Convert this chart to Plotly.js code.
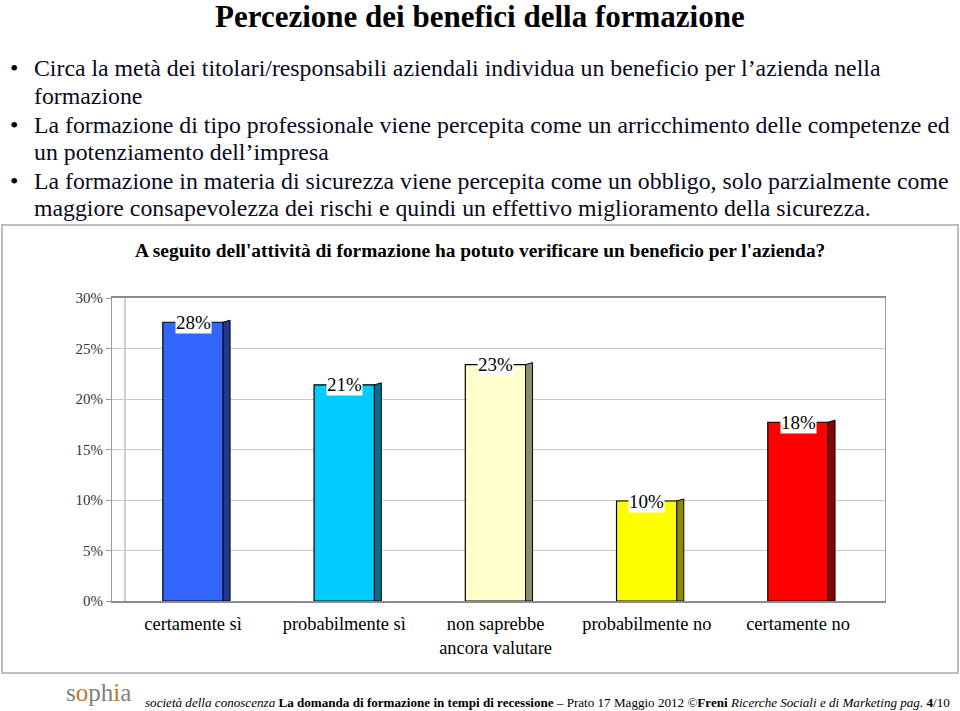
<!DOCTYPE html>
<html><head><meta charset="utf-8">
<script src="https://cdn.plot.ly/plotly-3.0.1.min.js"></script>
<style>body{margin:0;background:#fff}#c{width:960px;height:711px}</style>
</head><body><div id="c"></div>
<script>
const categories = ["certamente sì", "probabilmente sì", "non saprebbe<br>ancora valutare", "probabilmente no", "certamente no"];
const values = [27.6, 21.4, 23.4, 9.9, 17.7];
const labels = ["28%", "21%", "23%", "10%", "18%"];
const yTicks = [0, 5, 10, 15, 20, 25, 30];
const yTickLabels = ["0%", "5%", "10%", "15%", "20%", "25%", "30%"];
const barColors = ["#3366ff", "#00ccff", "#ffffcc", "#ffff00", "#ff0000"];
const sideColors = ["#1f3a8c", "#00708c", "#8c8c70", "#8c8c00", "#8c0000"];
const pageTitle = "Percezione dei benefici della formazione";
const chartTitle = "A seguito dell'attività di formazione ha potuto verificare un beneficio per l'azienda?";
const bulletLines = [
  ["•", "Circa la metà dei titolari/responsabili aziendali individua un beneficio per l’azienda nella"],
  ["", "formazione"],
  ["•", "La formazione di tipo professionale viene percepita come un arricchimento delle competenze ed"],
  ["", "un potenziamento dell’impresa"],
  ["•", "La formazione in materia di sicurezza viene percepita come un obbligo, solo parzialmente come"],
  ["", "maggiore consapevolezza dei rischi e quindi un effettivo miglioramento della sicurezza."]
];
const footer = "<i>società della conoscenza</i> <b>La domanda di formazione in tempi di recessione</b> – Prato 17 Maggio 2012 ©<b>Freni</b> <i>Ricerche Sociali e di Marketing pag.</i> <b>4</b>/10";

const W = 960, H = 711;
const px = x => x / W;
const py = y => 1 - y / H;
const serif = "Liberation Serif";

const idx = categories.map((_, i) => i);

const trace = {
  type: "bar",
  x: idx,
  y: values,
  width: 0.4,
  marker: {color: barColors, line: {color: "#000", width: 1.2}},
  hoverinfo: "skip"
};

const shapes = [];
shapes.push({type: "rect", xref: "paper", yref: "paper", x0: px(2), x1: px(958), y0: py(673), y1: py(225),
  line: {color: "#bdbdbd", width: 2}, fillcolor: "rgba(0,0,0,0)", layer: "below"});
shapes.push({type: "line", xref: "paper", yref: "paper", x0: px(125), x1: px(125), y0: py(601), y1: py(296),
  line: {color: "#a0a0a0", width: 1}, layer: "below"});
values.forEach((v, i) => {
  shapes.push({type: "path", xref: "x", yref: "y", xsizemode: "pixel", xanchor: i,
    path: `M30,0 L37,0 L37,${v + 0.2} L30,${v} Z`,
    fillcolor: sideColors[i], line: {color: "#000", width: 1}});
});

const annotations = [];
annotations.push({xref: "paper", yref: "paper", x: 0.5, y: py(17), text: "<b>" + pageTitle + "</b>",
  showarrow: false, font: {family: serif, size: 31, color: "#000"}, xanchor: "center", yanchor: "middle"});
const lineY = [68, 96, 125, 152, 181, 208];
bulletLines.forEach((l, i) => {
  if (l[0]) annotations.push({xref: "paper", yref: "paper", x: px(8), y: py(lineY[i]), text: l[0], showarrow: false,
    font: {family: serif, size: 24, color: "#000"}, xanchor: "left", yanchor: "middle"});
  annotations.push({xref: "paper", yref: "paper", x: px(32), y: py(lineY[i]), text: l[1], showarrow: false,
    font: {family: serif, size: 23.8, color: "#0a0a1e"}, xanchor: "left", yanchor: "middle"});
});
annotations.push({xref: "paper", yref: "paper", x: 0.5, y: py(250), text: "<b>" + chartTitle + "</b>",
  showarrow: false, font: {family: serif, size: 19.4, color: "#000"}, xanchor: "center", yanchor: "middle"});
values.forEach((v, i) => {
  annotations.push({xref: "x", yref: "y", x: i, y: v, text: labels[i], showarrow: false,
    bgcolor: "#fff", borderpad: 0, font: {family: serif, size: 19, color: "#000"}, xanchor: "center", yanchor: "middle"});
});
annotations.push({xref: "paper", yref: "paper", x: px(64), y: py(692), text: "s<span style='color:#c8742a'>o</span>ph<span style='color:#c8742a'>i</span>a",
  showarrow: false, font: {family: serif, size: 25, color: "#808080"}, xanchor: "left", yanchor: "middle"});
annotations.push({xref: "paper", yref: "paper", x: px(952), y: py(702), text: footer,
  showarrow: false, font: {family: serif, size: 13.1, color: "#000"}, xanchor: "right", yanchor: "middle"});

const layout = {
  width: W, height: H,
  margin: {l: 0, r: 0, t: 0, b: 0},
  paper_bgcolor: "#fff", plot_bgcolor: "#fff",
  showlegend: false,
  font: {family: serif},
  xaxis: {
    domain: [px(112), px(885)],
    range: [-0.536, 4.575],
    tickmode: "array", tickvals: idx, ticktext: categories,
    tickfont: {family: serif, size: 18.4, color: "#000"},
    ticklabelstandoff: 5,
    showgrid: false, zeroline: false,
    showline: true, linecolor: "#8c8c8c", linewidth: 2, mirror: true,
    ticks: "", fixedrange: true
  },
  yaxis: {
    domain: [py(601), py(298)],
    range: [0, 30],
    tickmode: "array", tickvals: yTicks, ticktext: yTickLabels,
    tickfont: {family: serif, size: 15, color: "#333"},
    ticks: "outside", ticklen: 5, tickcolor: "#999",
    showgrid: true, gridcolor: "#c8c8c8", gridwidth: 1,
    zeroline: false, showline: true, linecolor: "#9a9a9a", linewidth: 1, mirror: true,
    fixedrange: true
  },
  shapes: shapes,
  annotations: annotations
};

Plotly.newPlot("c", [trace], layout, {displayModeBar: false, staticPlot: true});
</script>
</body></html>
